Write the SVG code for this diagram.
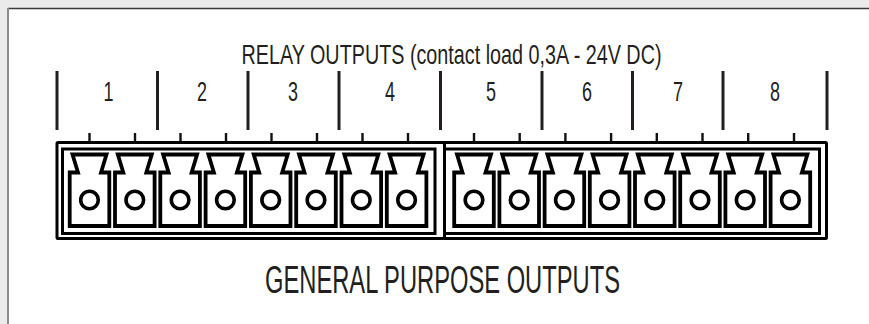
<svg xmlns="http://www.w3.org/2000/svg" width="869" height="324" viewBox="0 0 869 324">
<style>
.txt{font-family:"Liberation Sans Narrow","Liberation Sans",Arial,sans-serif;fill:#231f20}
.sep{stroke:#231f20;stroke-width:3;fill:none}
.tick{stroke:#111;stroke-width:2.4;fill:none}
.frame{stroke:#000;fill:none;stroke-width:3}
.pocket{stroke:#000;fill:#fff;stroke-width:3.8;stroke-linejoin:miter}
.hole{stroke:#000;fill:#fff;stroke-width:3.6}
</style>
<defs>
<g id="pk">
<path class="pocket" d="M-17,154.5 L17,154.5 L11.5,172.5 L19.8,172.5 L19.8,226 L-19.8,226 L-19.8,172.5 L-11.5,172.5 Z"/>
<circle class="hole" cx="0" cy="200" r="8.8"/>
</g>
</defs>
<rect x="0" y="0" width="869" height="324" fill="#ebebeb"/>
<rect x="8" y="8.5" width="870" height="330" fill="#fff"/>
<line x1="8" y1="8.5" x2="869" y2="8.5" stroke="#3a3a3a" stroke-width="1.5"/>
<line x1="8" y1="8" x2="8" y2="324" stroke="#8a8a8a" stroke-width="2"/>

<g id="title">
<text class="txt" x="241.5" y="63.5" font-size="27.5" textLength="420" lengthAdjust="spacingAndGlyphs">RELAY OUTPUTS (contact load 0,3A - 24V DC)</text>
</g>

<g id="relay-separators">
<line class="sep" x1="57" y1="71" x2="57" y2="130"/>
<line class="sep" x1="157.5" y1="71" x2="157.5" y2="130"/>
<line class="sep" x1="248" y1="71" x2="248" y2="130"/>
<line class="sep" x1="339" y1="71" x2="339" y2="130"/>
<line class="sep" x1="440.5" y1="71" x2="440.5" y2="130"/>
<line class="sep" x1="542" y1="71" x2="542" y2="130"/>
<line class="sep" x1="632.5" y1="71" x2="632.5" y2="130"/>
<line class="sep" x1="723" y1="71" x2="723" y2="130"/>
<line class="sep" x1="827" y1="71" x2="827" y2="130"/>
</g>

<g id="relay-numbers" font-size="27.5">
<text class="txt" x="103.5" y="100.5" textLength="10" lengthAdjust="spacingAndGlyphs">1</text>
<text class="txt" x="197" y="100.5" textLength="10" lengthAdjust="spacingAndGlyphs">2</text>
<text class="txt" x="288" y="100.5" textLength="10" lengthAdjust="spacingAndGlyphs">3</text>
<text class="txt" x="385" y="100.5" textLength="10" lengthAdjust="spacingAndGlyphs">4</text>
<text class="txt" x="486" y="100.5" textLength="10" lengthAdjust="spacingAndGlyphs">5</text>
<text class="txt" x="582" y="100.5" textLength="10" lengthAdjust="spacingAndGlyphs">6</text>
<text class="txt" x="673" y="100.5" textLength="10" lengthAdjust="spacingAndGlyphs">7</text>
<text class="txt" x="770" y="100.5" textLength="10" lengthAdjust="spacingAndGlyphs">8</text>
</g>

<g id="ticks">
<line class="tick" x1="89.5" y1="133" x2="89.5" y2="142"/>
<line class="tick" x1="135" y1="133" x2="135" y2="142"/>
<line class="tick" x1="180.5" y1="133" x2="180.5" y2="142"/>
<line class="tick" x1="226" y1="133" x2="226" y2="142"/>
<line class="tick" x1="271.5" y1="133" x2="271.5" y2="142"/>
<line class="tick" x1="317" y1="133" x2="317" y2="142"/>
<line class="tick" x1="362.5" y1="133" x2="362.5" y2="142"/>
<line class="tick" x1="408" y1="133" x2="408" y2="142"/>
<line class="tick" x1="474" y1="133" x2="474" y2="142"/>
<line class="tick" x1="519.7" y1="133" x2="519.7" y2="142"/>
<line class="tick" x1="565.4" y1="133" x2="565.4" y2="142"/>
<line class="tick" x1="611.1" y1="133" x2="611.1" y2="142"/>
<line class="tick" x1="656.8" y1="133" x2="656.8" y2="142"/>
<line class="tick" x1="702.5" y1="133" x2="702.5" y2="142"/>
<line class="tick" x1="748.2" y1="133" x2="748.2" y2="142"/>
<line class="tick" x1="794" y1="133" x2="794" y2="142"/>
</g>

<g id="terminal-block">
<rect class="frame" x="57" y="142.5" width="769.5" height="96" stroke-width="4" rx="1"/>
<rect class="frame" x="62.5" y="149" width="372.5" height="84.5" stroke-width="3"/>
<rect class="frame" x="444.5" y="149" width="375" height="84.5" stroke-width="3"/>
<line class="frame" x1="444.5" y1="142.5" x2="444.5" y2="238.5" stroke-width="3.4"/>
<use href="#pk" x="89.5"/>
<use href="#pk" x="134.8"/>
<use href="#pk" x="180.1"/>
<use href="#pk" x="225.4"/>
<use href="#pk" x="270.7"/>
<use href="#pk" x="316"/>
<use href="#pk" x="361.3"/>
<use href="#pk" x="406.6"/>
<use href="#pk" x="474"/>
<use href="#pk" x="519.2"/>
<use href="#pk" x="564.4"/>
<use href="#pk" x="609.6"/>
<use href="#pk" x="654.8"/>
<use href="#pk" x="700"/>
<use href="#pk" x="745.2"/>
<use href="#pk" x="790.4"/>
</g>

<g id="footer">
<text class="txt" x="265" y="293.3" font-size="39" textLength="355" lengthAdjust="spacingAndGlyphs">GENERAL PURPOSE OUTPUTS</text>
</g>
</svg>
